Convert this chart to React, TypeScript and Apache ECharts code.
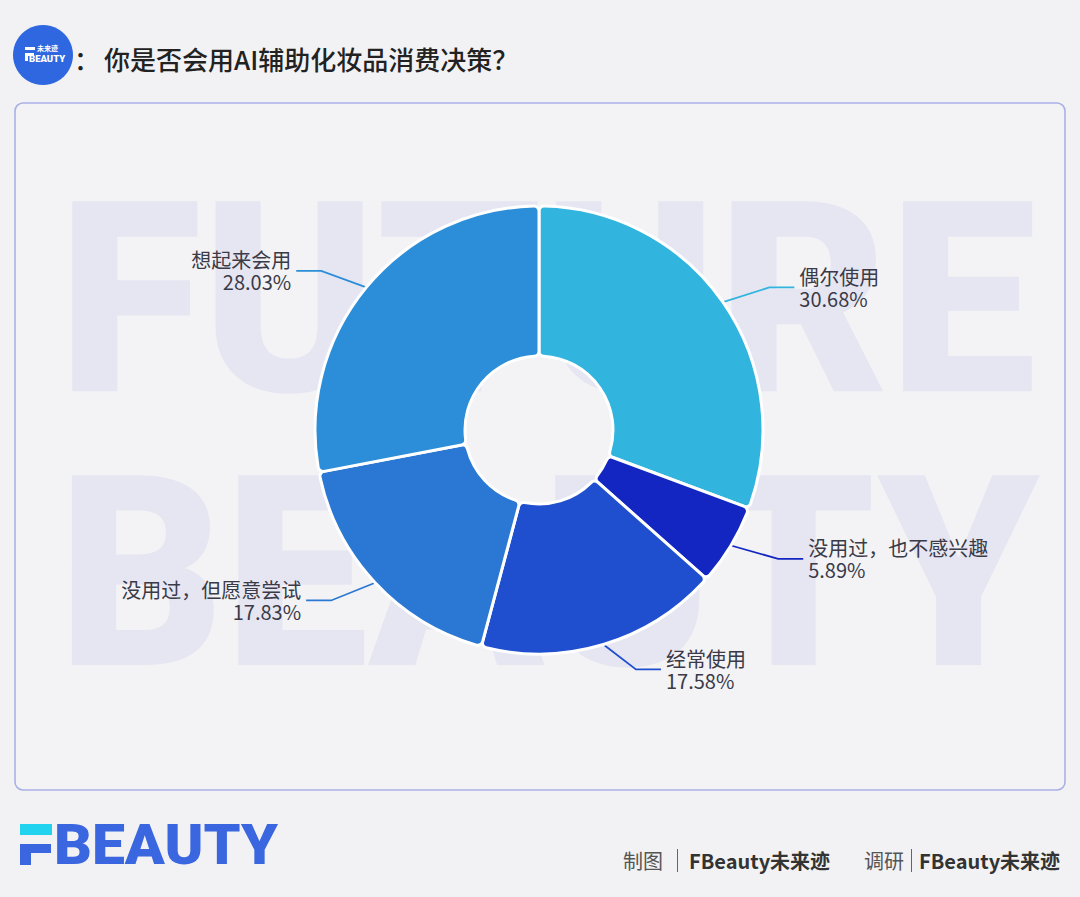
import React, { useEffect, useRef } from "react";
import * as echarts from "echarts";

const categories = ["偶尔使用", "没用过，也不感兴趣", "经常使用", "没用过，但愿意尝试", "想起来会用"];
const shares = [30.68, 5.89, 17.58, 17.83, 28.03];
const sliceColors = ["#31b5de", "#1326c2", "#1f4fce", "#2a78d4", "#2c8ed8"];
const titleText = "你是否会用AI辅助化妆品消费决策？";
const watermarkWords = ["FUTURE", "BEAUTY"];

const CJK = '"Noto Sans CJK SC", "Noto Sans", sans-serif';

export default function App() {
  const ref = useRef<HTMLDivElement>(null);
  useEffect(() => {
    document.body.style.margin = "0";
    document.body.style.background = "#f2f2f4";
    const chart = echarts.init(ref.current!, null, { renderer: "svg" });
    const data = categories.map((name, i) => ({
      name,
      value: shares[i],
      itemStyle: { color: sliceColors[i] },
    }));
    chart.setOption({
      animation: false,
      backgroundColor: "#f2f2f4",
      graphic: [
        // card
        {
          type: "rect",
          z: 0,
          shape: { x: 15, y: 103, width: 1050, height: 687, r: 8 },
          style: { fill: "#f3f3f5", stroke: "#aab0e6", lineWidth: 1.6 },
        },
        // watermark
        {
          type: "text",
          z: 1,
          x: 58,
          y: 300,
          scaleX: 0.985,
          style: {
            text: watermarkWords[0],
            fontSize: 267,
            fontWeight: 900,
            fontFamily: "Roboto, sans-serif",
            fill: "#e6e6f2",
            verticalAlign: "middle",
          },
        },
        {
          type: "text",
          z: 1,
          x: 58,
          y: 574,
          scaleX: 0.965,
          style: {
            text: watermarkWords[1],
            fontSize: 267,
            fontWeight: 900,
            fontFamily: "Roboto, sans-serif",
            fill: "#e6e6f2",
            verticalAlign: "middle",
          },
        },
        // top-left logo circle
        {
          type: "circle",
          z: 1,
          shape: { cx: 43, cy: 55, r: 30 },
          style: { fill: "#2f67e0" },
        },
        { type: "rect", z: 2, shape: { x: 25, y: 47, width: 10, height: 3 }, style: { fill: "#ffffff" } },
        { type: "rect", z: 2, shape: { x: 25, y: 53, width: 9, height: 3 }, style: { fill: "#ffffff" } },
        { type: "rect", z: 2, shape: { x: 25, y: 53, width: 3, height: 8 }, style: { fill: "#ffffff" } },
        {
          type: "text",
          z: 2,
          x: 37,
          y: 48,
          style: { text: "未来迹", fontSize: 7, fontFamily: CJK, fontWeight: 700, fill: "#ffffff", verticalAlign: "middle" },
        },
        {
          type: "text",
          z: 2,
          x: 29,
          y: 58,
          style: { text: "BEAUTY", fontSize: 9.5, fontFamily: "Roboto, sans-serif", fontWeight: 900, fill: "#ffffff", verticalAlign: "middle" },
        },
        // title
        {
          type: "text",
          z: 2,
          x: 74,
          y: 58,
          style: { text: "：", fontSize: 26, fontFamily: CJK, fontWeight: 500, fill: "#222222", verticalAlign: "middle" },
        },
        {
          type: "text",
          z: 2,
          x: 104,
          y: 58,
          style: { text: titleText, fontSize: 26, fontFamily: CJK, fontWeight: 500, fill: "#222222", verticalAlign: "middle" },
        },
        // footer logo
        { type: "rect", z: 2, shape: { x: 20, y: 824, width: 32, height: 11 }, style: { fill: "#22d3ef" } },
        { type: "rect", z: 2, shape: { x: 20, y: 844, width: 31, height: 9 }, style: { fill: "#3a66e0" } },
        { type: "rect", z: 2, shape: { x: 20, y: 844, width: 11, height: 21 }, style: { fill: "#3a66e0" } },
        {
          type: "text",
          z: 2,
          x: 54,
          y: 845,
          scaleX: 1.05,
          style: {
            text: "BEAUTY",
            fontSize: 56,
            fontFamily: "Roboto, sans-serif",
            fontWeight: 900,
            fill: "#3a66e0",
            verticalAlign: "middle",
          },
        },
        // footer credits
        {
          type: "text",
          z: 2,
          x: 623,
          y: 860,
          style: { text: "制图", fontSize: 20, fontFamily: CJK, fill: "#555555", verticalAlign: "middle" },
        },
        { type: "rect", z: 2, shape: { x: 677, y: 849, width: 1, height: 23 }, style: { fill: "#666666" } },
        {
          type: "text",
          z: 2,
          x: 689,
          y: 860,
          style: { text: "FBeauty未来迹", fontSize: 20, fontFamily: CJK, fontWeight: 700, fill: "#333333", verticalAlign: "middle" },
        },
        {
          type: "text",
          z: 2,
          x: 864,
          y: 860,
          style: { text: "调研", fontSize: 20, fontFamily: CJK, fill: "#555555", verticalAlign: "middle" },
        },
        { type: "rect", z: 2, shape: { x: 911, y: 849, width: 1, height: 23 }, style: { fill: "#666666" } },
        {
          type: "text",
          z: 2,
          x: 919,
          y: 860,
          style: { text: "FBeauty未来迹", fontSize: 20, fontFamily: CJK, fontWeight: 700, fill: "#333333", verticalAlign: "middle" },
        },
      ],
      series: [
        {
          type: "pie",
          z: 5,
          center: [539, 430],
          radius: [74, 224],
          startAngle: 90,
          clockwise: true,
          avoidLabelOverlap: false,
          itemStyle: { borderColor: "#ffffff", borderWidth: 3, borderRadius: 5 },
          label: {
            show: true,
            formatter: (p: any) => p.name + "\n" + Number(p.value).toFixed(2) + "%",
            color: "#3a3a48",
            fontSize: 20,
            lineHeight: 22,
            fontFamily: CJK,
          },
          labelLine: { show: true, length: 26, length2: 50, lineStyle: { width: 1.8 } },
          labelLayout: (params: any) => {
            const pts = params.labelLinePoints;
            if (!pts || pts.length < 3) return {};
            const p0 = [pts[0][0], pts[0][1]];
            const end = [pts[2][0], pts[2][1]];
            const dir = end[0] > p0[0] ? 1 : -1;
            return { labelLinePoints: [p0, [end[0] - dir * 25, end[1]], end] };
          },
          emphasis: { disabled: true },
          data,
        },
      ],
    });
    return () => chart.dispose();
  }, []);
  return <div ref={ref} style={{ width: 1080, height: 897 }} />;
}
